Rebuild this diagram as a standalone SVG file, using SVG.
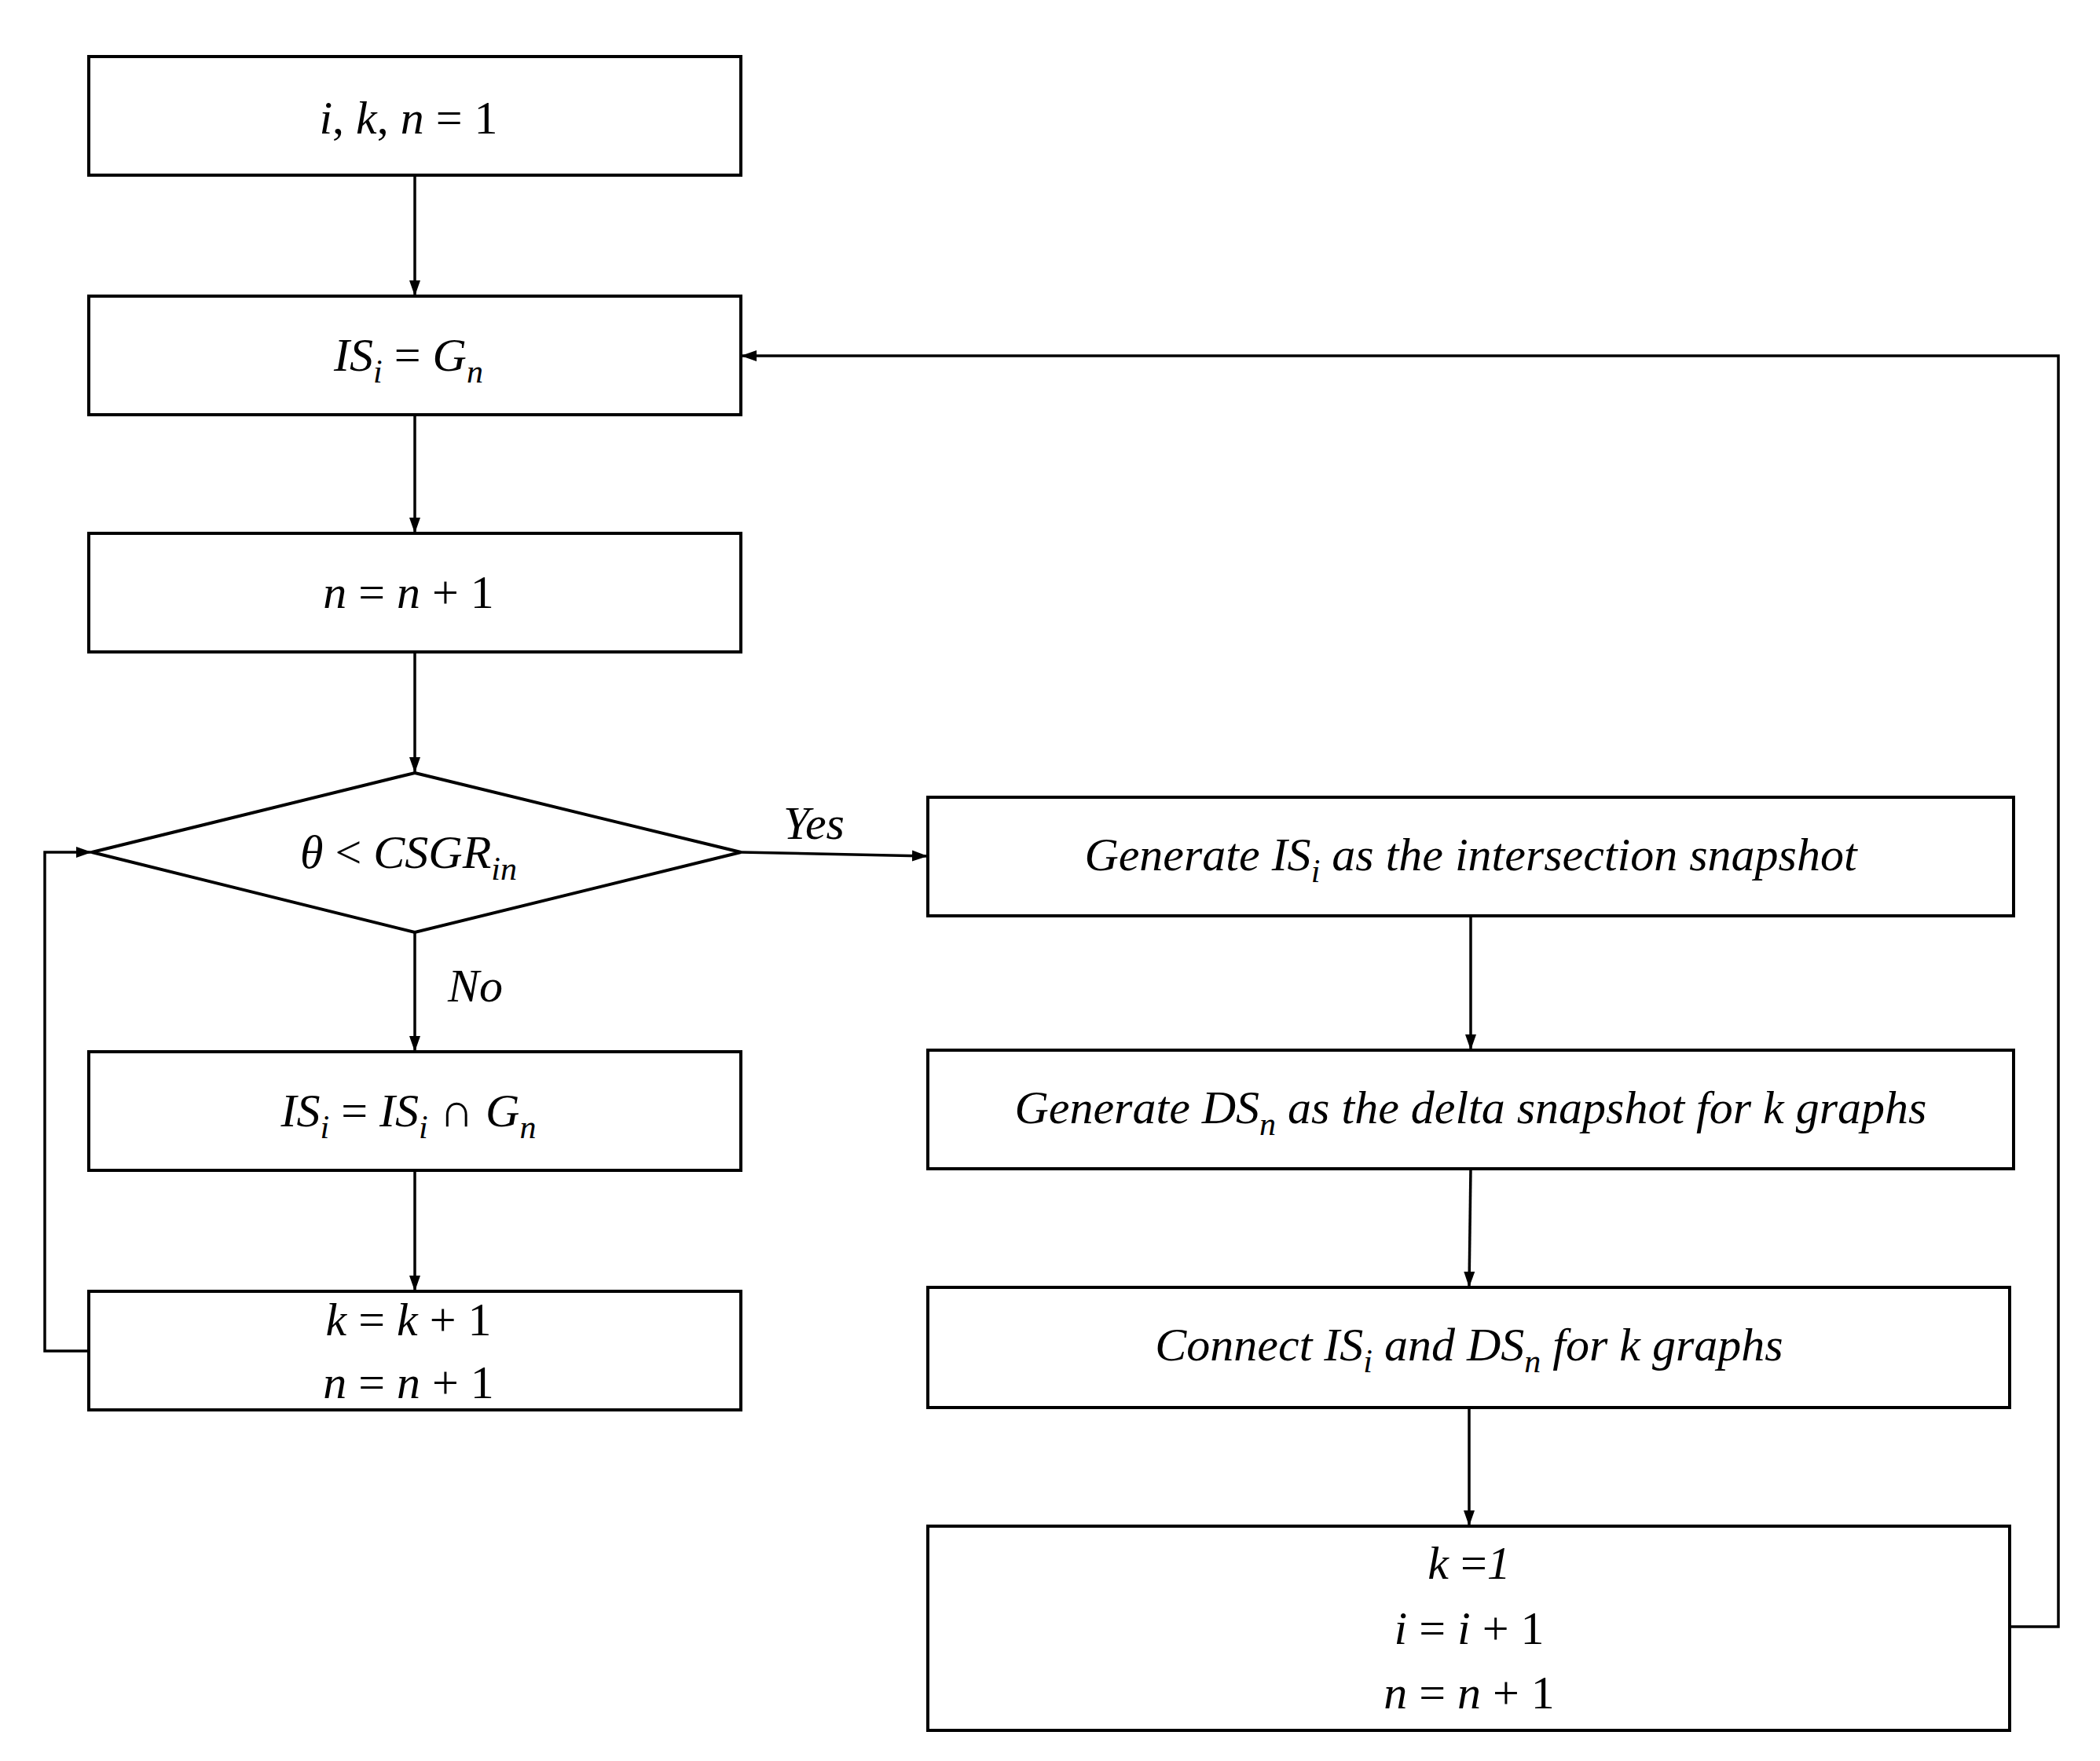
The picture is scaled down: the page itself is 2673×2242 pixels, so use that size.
<svg xmlns="http://www.w3.org/2000/svg" width="2673" height="2242" viewBox="0 0 2673 2242">
<style>
.b{fill:#fff;stroke:#000;stroke-width:4}
.c{fill:none;stroke:#000;stroke-width:3.5}
.m{font-family:"Liberation Serif","DejaVu Serif",serif;font-size:60px;text-anchor:middle}
.i{font-style:italic}
.r{font-family:"Liberation Serif","DejaVu Serif",serif;font-size:60px;font-style:italic;text-anchor:middle}
.s{font-size:42px}
</style>
<defs><marker id="a" markerWidth="10" markerHeight="10" refX="9" refY="5" orient="auto" markerUnits="userSpaceOnUse" viewBox="0 0 10 10"><path d="M0,0 L10,5 L0,10 z" transform="scale(1.8) translate(-4.5,-2.2)"/></marker>
<marker id="h" viewBox="0 0 20 20" refX="20" refY="10" markerWidth="20" markerHeight="20" orient="auto" markerUnits="userSpaceOnUse"><path d="M0,3 L20,10 L0,17 z"/></marker></defs>
<g id="connectors">
<path class="c" d="M528,223 V377" marker-end="url(#h)"/>
<path class="c" d="M528,528 V679" marker-end="url(#h)"/>
<path class="c" d="M528,830 V984" marker-end="url(#h)"/>
<path class="c" d="M528,1187 V1339" marker-end="url(#h)"/>
<path class="c" d="M528,1490 V1644" marker-end="url(#h)"/>
<path class="c" d="M113,1720 H57 V1085 H117" marker-end="url(#h)"/>
<path class="c" d="M943,1085 L1181,1090" marker-end="url(#h)"/>
<path class="c" d="M1872,1166 V1337" marker-end="url(#h)"/>
<path class="c" d="M1872,1488 L1870,1639" marker-end="url(#h)"/>
<path class="c" d="M1870,1792 V1943" marker-end="url(#h)"/>
<path class="c" d="M2558,2071 H2620 V453 H943" marker-end="url(#h)"/>
<text class="r" x="1036" y="1068">Yes</text>
<text class="r" x="605" y="1275">No</text>
</g>
<g id="n1"><rect class="b" x="113" y="72" width="830" height="151"/><text class="m" x="520" y="170"><tspan class="i">i</tspan>, <tspan class="i">k</tspan>, <tspan class="i">n</tspan> = 1</text></g>
<g id="n2"><rect class="b" x="113" y="377" width="830" height="151"/><text class="m" x="520" y="472"><tspan class="i">IS</tspan><tspan class="i s" dy="15">i</tspan><tspan dy="-15"> = </tspan><tspan class="i">G</tspan><tspan class="i s" dy="15">n</tspan></text></g>
<g id="n3"><rect class="b" x="113" y="679" width="830" height="151"/><text class="m" x="520" y="774"><tspan class="i">n</tspan> = <tspan class="i">n</tspan> + 1</text></g>
<g id="n4"><path class="b" d="M528,984 L943,1085 L528,1187 L117,1085 Z"/><text class="m" x="520" y="1105"><tspan class="i">θ</tspan> &lt; <tspan class="i">CSGR</tspan><tspan class="i s" dy="15">in</tspan></text></g>
<g id="n5"><rect class="b" x="113" y="1339" width="830" height="151"/><text class="m" x="520" y="1434"><tspan class="i">IS</tspan><tspan class="i s" dy="15">i</tspan><tspan dy="-15"> = </tspan><tspan class="i">IS</tspan><tspan class="i s" dy="15">i</tspan><tspan dy="-15"> ∩ </tspan><tspan class="i">G</tspan><tspan class="i s" dy="15">n</tspan></text></g>
<g id="n6"><rect class="b" x="113" y="1644" width="830" height="151"/><text class="m" x="520" y="1700"><tspan class="i">k</tspan> = <tspan class="i">k</tspan> + 1</text><text class="m" x="520" y="1780"><tspan class="i">n</tspan> = <tspan class="i">n</tspan> + 1</text></g>
<g id="r1"><rect class="b" x="1181" y="1015" width="1382" height="151"/><text class="r" x="1872" y="1108">Generate IS<tspan class="s" dy="15">i</tspan><tspan dy="-15">  as the intersection snapshot</tspan></text></g>
<g id="r2"><rect class="b" x="1181" y="1337" width="1382" height="151"/><text class="r" x="1872" y="1430">Generate DS<tspan class="s" dy="15">n</tspan><tspan dy="-15"> as the delta snapshot for k graphs</tspan></text></g>
<g id="r3"><rect class="b" x="1181" y="1639" width="1377" height="153"/><text class="r" x="1870" y="1732">Connect IS<tspan class="s" dy="15">i</tspan><tspan dy="-15"> and DS</tspan><tspan class="s" dy="15">n</tspan><tspan dy="-15"> for k graphs</tspan></text></g>
<g id="r4"><rect class="b" x="1181" y="1943" width="1377" height="260"/><text class="m" x="1870" y="2010"><tspan class="i">k</tspan> =<tspan class="i">1</tspan></text><text class="m" x="1870" y="2093"><tspan class="i">i</tspan> = <tspan class="i">i</tspan> + 1</text><text class="m" x="1870" y="2175"><tspan class="i">n</tspan> = <tspan class="i">n</tspan> + 1</text></g>
</svg>
